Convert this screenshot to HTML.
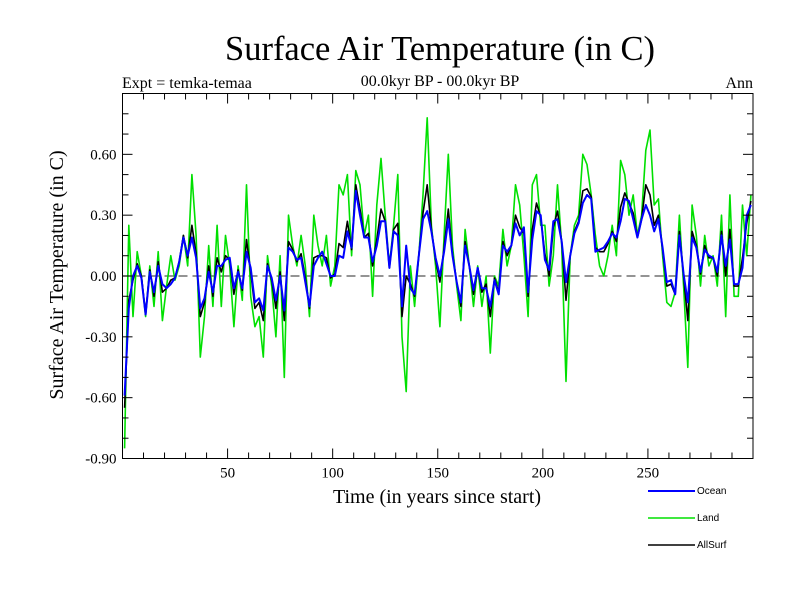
<!DOCTYPE html>
<html><head><meta charset="utf-8"><style>
body{margin:0;background:#fff}
svg text{font-family:"Liberation Serif",serif}
</style></head><body>
<svg id="chart" width="800" height="600" xmlns="http://www.w3.org/2000/svg">
<text x="440" y="60" font-size="34.5" text-anchor="middle">Surface Air Temperature (in C)</text>
<text x="122" y="88" font-size="16">Expt = temka-temaa</text>
<text x="440" y="86" font-size="16" text-anchor="middle">00.0kyr BP - 00.0kyr BP</text>
<text x="753" y="88" font-size="16" text-anchor="end">Ann</text>
<text transform="translate(63,275) rotate(-90)" font-size="20" text-anchor="middle">Surface Air Temperature (in C)</text>
<text x="437" y="503" font-size="20" text-anchor="middle">Time (in years since start)</text>
<g id="grid"></g>
<g id="series"></g>
<rect x="122.5" y="93.5" width="630.5" height="365" fill="none" stroke="#000" stroke-width="1"/>
<g id="axes"></g>
<g font-family="Liberation Sans,sans-serif" font-size="10">
<g><line x1="648" y1="491" x2="695" y2="491" stroke="#0000ff" stroke-width="2"/><text x="697" y="494" style="font-family:'Liberation Sans',sans-serif">Ocean</text></g>
<g><line x1="648" y1="518" x2="695" y2="518" stroke="#00e000" stroke-width="1.5"/><text x="697" y="521" style="font-family:'Liberation Sans',sans-serif">Land</text></g>
<g><line x1="648" y1="545" x2="695" y2="545" stroke="#000" stroke-width="1.5"/><text x="697" y="548" style="font-family:'Liberation Sans',sans-serif">AllSurf</text></g>
</g>
</svg>
<script>
const years = [];
for (let y = 1; y <= 299; y += 2) years.push(y);
const ocean = [-0.59,-0.16,0.0,0.05,-0.01,-0.19,0.02,-0.08,0.05,-0.04,-0.06,-0.04,-0.01,0.07,0.19,0.10,0.19,0.09,-0.16,-0.11,0.02,-0.08,0.05,0.05,0.08,
0.09,-0.06,0.02,-0.06,0.12,0.04,-0.13,-0.11,-0.17,0.05,-0.01,-0.12,0.0,-0.17,0.14,0.12,0.08,0.09,-0.03,-0.15,0.05,0.09,0.12,0.06,0.0,
0.0,0.10,0.09,0.22,0.14,0.42,0.30,0.19,0.19,0.07,0.15,0.27,0.27,0.04,0.22,0.20,-0.15,0.15,-0.06,-0.09,0.10,0.28,0.32,0.22,0.09,
0.0,0.12,0.28,0.10,-0.03,-0.13,0.15,0.05,-0.07,0.04,-0.06,-0.06,-0.15,-0.02,-0.09,0.15,0.12,0.15,0.26,0.20,0.24,-0.08,0.18,0.32,0.30,
0.08,0.03,0.27,0.28,0.17,-0.03,0.10,0.21,0.26,0.36,0.40,0.38,0.12,0.13,0.14,0.17,0.21,0.19,0.27,0.38,0.37,0.28,0.19,0.28,0.35,
0.30,0.22,0.28,0.14,-0.03,-0.02,-0.09,0.20,0.01,-0.13,0.19,0.14,0.02,0.13,0.10,0.09,0.02,0.20,0.05,0.18,-0.04,-0.04,0.04,0.30,0.35];
const land = [-0.85,0.25,-0.2,0.12,0.0,-0.2,0.05,-0.15,0.12,-0.22,-0.05,0.1,-0.02,0.05,0.2,0.05,0.5,0.2,-0.4,-0.2,0.15,-0.15,0.25,-0.15,0.2,
0.05,-0.25,0.05,-0.12,0.45,-0.1,-0.25,-0.2,-0.4,0.1,-0.05,-0.3,0.1,-0.5,0.3,0.15,0.05,0.2,0.05,-0.2,0.3,0.15,0.05,0.2,-0.05,
0.05,0.45,0.4,0.5,0.1,0.52,0.45,0.2,0.3,-0.1,0.35,0.58,0.3,0.05,0.25,0.5,-0.3,-0.57,0.05,-0.15,0.1,0.4,0.78,0.25,0.05,
-0.25,0.2,0.6,0.15,-0.05,-0.22,0.23,0.05,-0.15,0.05,-0.15,0.0,-0.38,0.0,-0.05,0.23,0.05,0.15,0.45,0.35,0.1,-0.2,0.45,0.5,0.25,
0.25,-0.05,0.1,0.45,0.15,-0.52,0.1,0.25,0.3,0.6,0.55,0.4,0.2,0.05,0.0,0.1,0.25,0.1,0.57,0.5,0.3,0.4,0.2,0.3,0.62,
0.72,0.35,0.38,0.1,-0.13,-0.15,-0.08,0.3,-0.05,-0.45,0.35,0.2,-0.05,0.2,0.05,0.1,-0.05,0.3,-0.2,0.4,-0.1,-0.1,0.35,0.1,0.4];
const allSurf = [-0.65,-0.12,-0.02,0.06,0.0,-0.19,0.03,-0.1,0.07,-0.08,-0.06,-0.02,-0.01,0.07,0.2,0.09,0.25,0.11,-0.2,-0.13,0.05,-0.1,0.09,0.02,0.1,
0.08,-0.09,0.03,-0.07,0.18,0.02,-0.16,-0.13,-0.22,0.06,-0.02,-0.16,0.02,-0.22,0.17,0.13,0.07,0.11,-0.01,-0.16,0.09,0.1,0.1,0.09,-0.01,
0.01,0.16,0.14,0.27,0.13,0.45,0.33,0.19,0.21,0.05,0.18,0.33,0.27,0.04,0.23,0.26,-0.2,0.0,-0.04,-0.1,0.1,0.31,0.45,0.23,0.08,
-0.03,0.14,0.33,0.11,-0.03,-0.15,0.17,0.05,-0.09,0.04,-0.08,-0.04,-0.2,-0.01,-0.08,0.17,0.1,0.15,0.3,0.24,0.21,-0.1,0.23,0.36,0.29,
0.11,0.0,0.24,0.32,0.17,-0.12,0.10,0.22,0.27,0.42,0.43,0.39,0.14,0.12,0.12,0.16,0.22,0.17,0.34,0.41,0.36,0.31,0.19,0.28,0.45,
0.4,0.25,0.3,0.13,-0.05,-0.04,-0.09,0.22,0.0,-0.22,0.22,0.15,0.01,0.15,0.09,0.09,0.0,0.22,0.0,0.23,-0.05,-0.05,0.09,0.26,0.37];
const yTicks = [-0.9,-0.6,-0.3,0.0,0.3,0.6];
const yTickLabels = ["-0.90","-0.60","-0.30","0.00","0.30","0.60"];
const xTicks = [50,100,150,200,250];

const X0=122.5, X1=753, Y0=458.5, Y1=93.5;
const xs = v => X0 + (v-0)/(300-0)*(X1-X0);
const ys = v => Y0 - (v+0.9)/1.8*(Y0-Y1);
const NS="http://www.w3.org/2000/svg";
function mk(tag, attrs, parent){const e=document.createElementNS(NS,tag);for(const k in attrs)e.setAttribute(k,attrs[k]);parent.appendChild(e);return e;}
const axes=document.getElementById('axes'), grid=document.getElementById('grid'), ser=document.getElementById('series');

const zl = mk('line',{x1:X0,x2:X1,y1:ys(0),y2:ys(0),stroke:'#555','stroke-width':1.2,'stroke-dasharray':'9,5'},grid);



for(let i=-9;i<=9;i++){
  const v=i/10, y=ys(v), major=(i%3===0), L=major?10:6;
  const t1=mk('line',{x1:X0,x2:X0+L,y1:y,y2:y,stroke:'#000'},axes);
  
  
  const t2=mk('line',{x1:X1,x2:X1-L,y1:y,y2:y,stroke:'#000'},axes);
  
  
}
yTicks.forEach((v,i)=>{
  const t=mk('text',{x:X0-6,y:ys(v)+5,'font-size':15,'text-anchor':'end'},axes);
  t.textContent=yTickLabels[i];
  
  
});
for(let yr=10;yr<300;yr+=10){
  const x=xs(yr), L=(yr%50===0)?10:6;
  const a=mk('line',{x1:x,x2:x,y1:Y0,y2:Y0-L,stroke:'#000'},axes);
  
  
  const b=mk('line',{x1:x,x2:x,y1:Y1,y2:Y1+L,stroke:'#000'},axes);
  
  
}
xTicks.forEach(v=>{
  const t=mk('text',{x:xs(v),y:Y0+19,'font-size':15,'text-anchor':'middle'},axes);
  t.textContent=String(v);
  
  
});
function line(vals,color,w,name){
  const d=vals.map((v,i)=>(i?'L':'M')+xs(years[i]).toFixed(1)+','+ys(v).toFixed(1)).join('');
  const p=mk('path',{d:d,fill:'none',stroke:color,'stroke-width':w,'stroke-linejoin':'round'},ser);
  
  
}
line(land,'#00e000',1.6,'land-line');
line(allSurf,'#000000',1.6,'allsurf-line');
line(ocean,'#0000ff',2,'ocean-line');
</script>
</body></html>
